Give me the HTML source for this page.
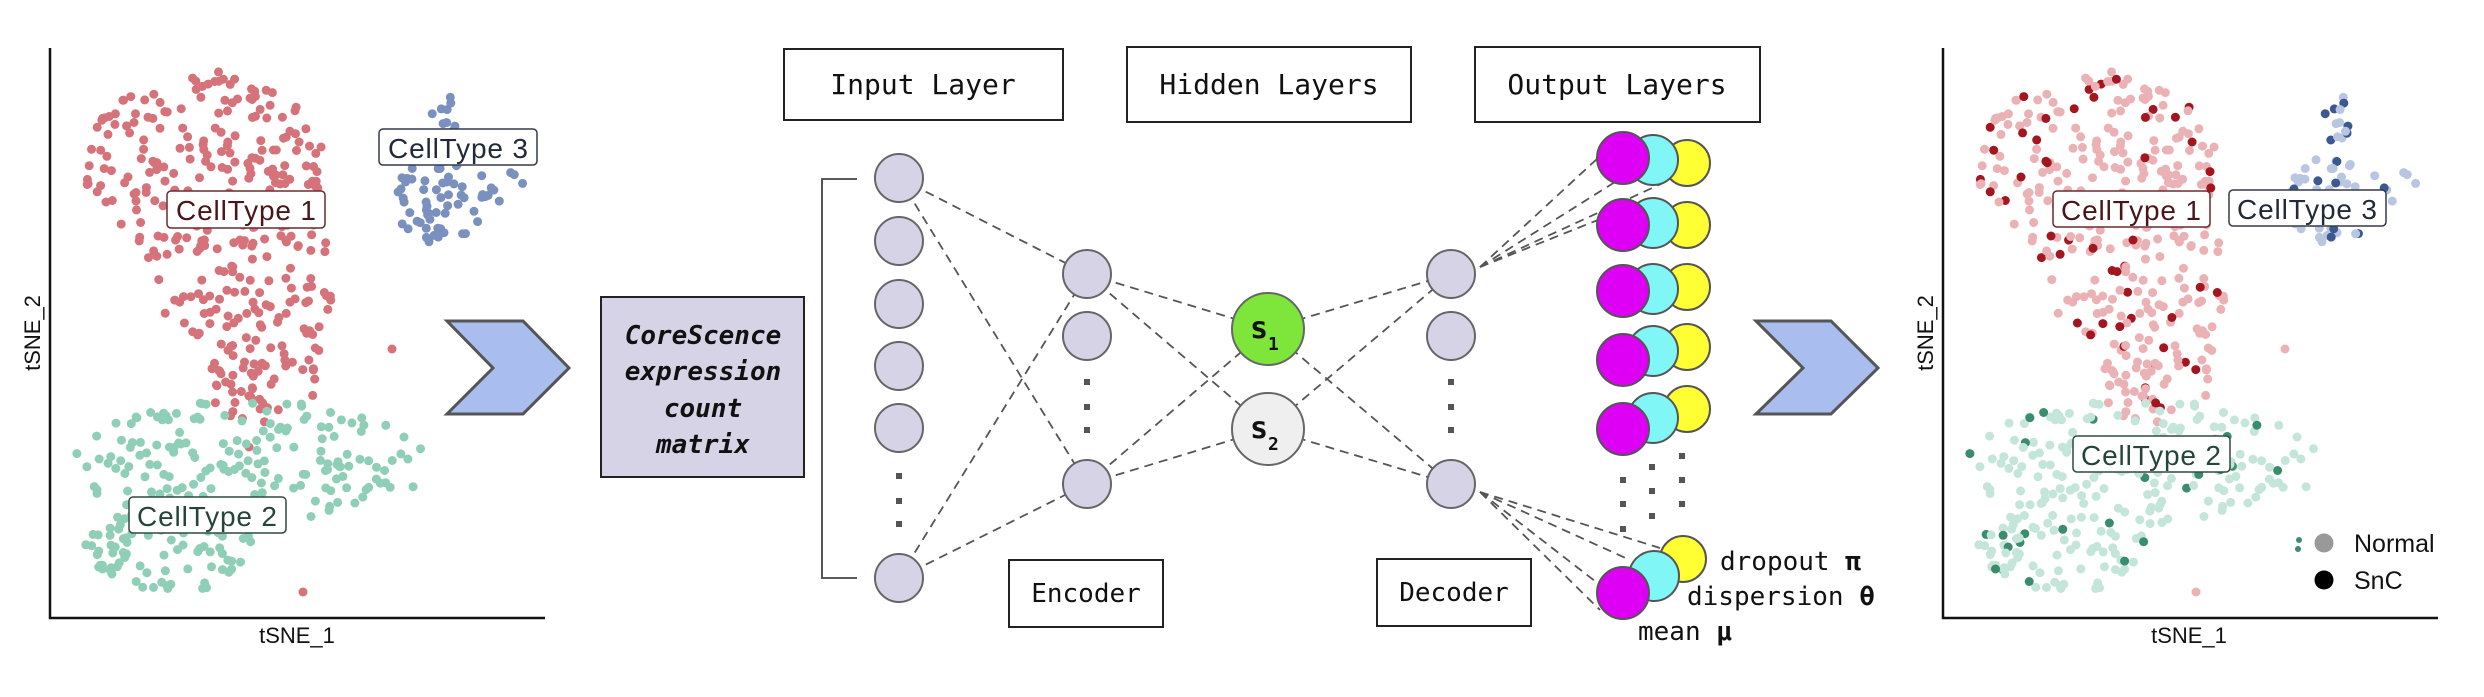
<!DOCTYPE html>
<html><head><meta charset="utf-8">
<style>
html,body{margin:0;padding:0;background:#fff;}
svg{display:block;}
.mono{font-family:"DejaVu Sans Mono","Liberation Mono",monospace;}
.sans{font-family:"Liberation Sans",Arial,sans-serif;}
</style></head>
<body>
<svg id="s" width="2484" height="697" viewBox="0 0 2484 697" xmlns="http://www.w3.org/2000/svg">
<rect width="2484" height="697" fill="#fff"/>
<g id="pts"></g>
<!-- left plot axes -->
<path d="M50 48 V618 H545" fill="none" stroke="#111" stroke-width="2.5"/>
<text x="297" y="643" class="sans" font-size="22" text-anchor="middle" fill="#111">tSNE_1</text>
<text transform="translate(40,333) rotate(-90)" class="sans" font-size="22" text-anchor="middle" fill="#111">tSNE_2</text>
<!-- right plot axes -->
<path d="M1943 48 V618 H2438" fill="none" stroke="#111" stroke-width="2.5"/>
<text x="2189" y="643" class="sans" font-size="22" text-anchor="middle" fill="#111">tSNE_1</text>
<text transform="translate(1933,333) rotate(-90)" class="sans" font-size="22" text-anchor="middle" fill="#111">tSNE_2</text>

<g id="labels" class="sans" font-size="28">
<rect x="167" y="191" width="158" height="37" rx="4" fill="#fff" stroke="#6b2a2e" stroke-width="1.5"/>
<text x="246" y="220" text-anchor="middle" fill="#4a1518" textLength="140">CellType 1</text>
<rect x="379" y="129" width="158" height="36" rx="4" fill="#fff" stroke="#333a4a" stroke-width="1.5"/>
<text x="458" y="158" text-anchor="middle" fill="#222a3a" textLength="140">CellType 3</text>
<rect x="129" y="497" width="157" height="36" rx="4" fill="#fff" stroke="#2f4a40" stroke-width="1.5"/>
<text x="207" y="526" text-anchor="middle" fill="#25453a" textLength="140">CellType 2</text>

<rect x="2053" y="191" width="157" height="36" rx="4" fill="#fff" stroke="#6b2a2e" stroke-width="1.5"/>
<text x="2131" y="220" text-anchor="middle" fill="#4a1518" textLength="140">CellType 1</text>
<rect x="2229" y="190" width="157" height="36" rx="4" fill="#fff" stroke="#333a4a" stroke-width="1.5"/>
<text x="2307" y="219" text-anchor="middle" fill="#222a3a" textLength="140">CellType 3</text>
<rect x="2073" y="436" width="157" height="36" rx="4" fill="#fff" stroke="#2f4a40" stroke-width="1.5"/>
<text x="2151" y="465" text-anchor="middle" fill="#25453a" textLength="140">CellType 2</text>
</g>
<!-- legend -->
<circle cx="2299" cy="540" r="3" fill="#3a8f6e"/><circle cx="2298" cy="549" r="3" fill="#3a8f6e"/>
<circle cx="2324" cy="543" r="9.5" fill="#999"/>
<text x="2354" y="552" class="sans" font-size="25" fill="#111">Normal</text>
<circle cx="2324" cy="580" r="9.5" fill="#000"/>
<text x="2354" y="589" class="sans" font-size="25" fill="#111">SnC</text>

<!-- chevrons -->
<polygon points="447,321 523,321 569,368 523,414 447,414 493,368" fill="#a9bdee" stroke="#555" stroke-width="3"/>
<polygon points="1756,321 1831,321 1878,368 1831,414 1756,414 1803,368" fill="#a9bdee" stroke="#555" stroke-width="3"/>

<!-- CoreScence box -->
<rect x="601" y="297" width="203" height="180" fill="#d6d3e6" stroke="#222" stroke-width="2"/>
<g class="mono" font-size="26" font-weight="bold" font-style="italic" text-anchor="middle" fill="#111">
<text x="703" y="344">CoreScence</text>
<text x="703" y="380">expression</text>
<text x="703" y="417">count</text>
<text x="703" y="453">matrix</text>
</g>

<!-- header boxes -->
<g fill="#fff" stroke="#222" stroke-width="2">
<rect x="784" y="49" width="279" height="71"/>
<rect x="1127" y="47" width="284" height="75"/>
<rect x="1475" y="47" width="285" height="75"/>
<rect x="1009" y="560" width="154" height="67"/>
<rect x="1377" y="559" width="154" height="67"/>
</g>
<g class="mono" font-size="28" text-anchor="middle" fill="#111">
<text x="923" y="94">Input Layer</text>
<text x="1269" y="94">Hidden Layers</text>
<text x="1617" y="94">Output Layers</text>
</g>
<g class="mono" font-size="26" text-anchor="middle" fill="#111">
<text x="1086" y="602">Encoder</text>
<text x="1454" y="601">Decoder</text>
</g>

<!-- bracket -->
<path d="M857 179 H822 V578 H857" fill="none" stroke="#444" stroke-width="1.8"/>

<!-- dashed edges -->
<g stroke="#555" stroke-width="1.8" stroke-dasharray="9 6" fill="none">
<line x1="899" y1="178" x2="1087" y2="274"/>
<line x1="899" y1="178" x2="1087" y2="484"/>
<line x1="899" y1="578" x2="1087" y2="274"/>
<line x1="899" y1="578" x2="1087" y2="484"/>
<line x1="1087" y1="274" x2="1268" y2="329"/>
<line x1="1087" y1="274" x2="1268" y2="429"/>
<line x1="1087" y1="484" x2="1268" y2="329"/>
<line x1="1087" y1="484" x2="1268" y2="429"/>
<line x1="1268" y1="329" x2="1451" y2="274"/>
<line x1="1268" y1="329" x2="1451" y2="484"/>
<line x1="1268" y1="429" x2="1451" y2="274"/>
<line x1="1268" y1="429" x2="1451" y2="484"/>
<line x1="1480" y1="267" x2="1598" y2="158"/>
<line x1="1480" y1="267" x2="1615" y2="182"/>
<line x1="1480" y1="267" x2="1663" y2="183"/>
<line x1="1480" y1="267" x2="1598" y2="220"/>
<line x1="1480" y1="492" x2="1600" y2="585"/>
<line x1="1480" y1="492" x2="1630" y2="560"/>
<line x1="1480" y1="492" x2="1660" y2="548"/>
<line x1="1480" y1="492" x2="1600" y2="610"/>
</g>

<!-- nodes -->
<g fill="#d6d3e6" stroke="#666" stroke-width="2">
<circle cx="899" cy="178" r="24"/><circle cx="899" cy="241" r="24"/><circle cx="899" cy="304" r="24"/>
<circle cx="899" cy="366" r="24"/><circle cx="899" cy="428" r="24"/><circle cx="899" cy="578" r="24"/>
<circle cx="1087" cy="274" r="24"/><circle cx="1087" cy="336" r="24"/><circle cx="1087" cy="484" r="24"/>
<circle cx="1451" cy="274" r="24"/><circle cx="1451" cy="336" r="24"/><circle cx="1451" cy="484" r="24"/>
</g>
<g fill="#555">
<rect x="896" y="473" width="6" height="6"/><rect x="896" y="498" width="6" height="6"/><rect x="896" y="521" width="6" height="6"/>
<rect x="1084" y="379" width="6" height="6"/><rect x="1084" y="404" width="6" height="6"/><rect x="1084" y="427" width="6" height="6"/>
<rect x="1448" y="379" width="6" height="6"/><rect x="1448" y="404" width="6" height="6"/><rect x="1448" y="427" width="6" height="6"/>
<rect x="1620" y="477" width="6" height="6"/><rect x="1620" y="501" width="6" height="6"/><rect x="1620" y="526" width="6" height="6"/>
<rect x="1649" y="464" width="6" height="6"/><rect x="1649" y="488" width="6" height="6"/><rect x="1649" y="513" width="6" height="6"/>
<rect x="1679" y="453" width="6" height="6"/><rect x="1679" y="477" width="6" height="6"/><rect x="1679" y="501" width="6" height="6"/>
</g>
<circle cx="1268" cy="329" r="36" fill="#7ee63a" stroke="#666" stroke-width="2"/>
<circle cx="1268" cy="429" r="36" fill="#efefef" stroke="#666" stroke-width="2"/>
<g class="mono" font-weight="bold" fill="#111">
<text x="1250" y="338" font-size="30">s</text><text x="1268" y="350" font-size="18">1</text>
<text x="1250" y="438" font-size="30">s</text><text x="1268" y="450" font-size="18">2</text>
</g>

<g id="outs" stroke="#555" stroke-width="2"></g>
<g class="mono" font-size="26" fill="#111">
<text x="1720" y="570">dropout <tspan font-weight="bold">π</tspan></text>
<text x="1687" y="605">dispersion <tspan font-weight="bold">θ</tspan></text>
<text x="1638" y="640">mean <tspan font-weight="bold">μ</tspan></text>
</g>
</svg>
<script>
(function(){
var NS="http://www.w3.org/2000/svg";
function el(p,t,a){var e=document.createElementNS(NS,t);for(var k in a)e.setAttribute(k,a[k]);p.appendChild(e);return e;}
var outs=document.getElementById('outs');
var rows=[[158,160,163],[225,223,225],[291,289,287],[360,351,347],[429,418,409],[593,576,559]];
rows.forEach(function(r,i){
  var last=(i==5);
  el(outs,'circle',{cx:last?1683:1687,cy:r[2],r:23,fill:'#ffff33'});
  el(outs,'circle',{cx:last?1654:1653,cy:r[1],r:25,fill:'#80f6f6'});
  el(outs,'circle',{cx:1623,cy:r[0],r:26,fill:'#dd00f5'});
});
var seed=12345;function rnd(){seed=(seed*1103515245+12345)%2147483648;return seed/2147483648;}
var g=document.getElementById('pts');
function inE(x,y,cx,cy,rx,ry){var a=(x-cx)/rx,b=(y-cy)/ry;return a*a+b*b<=1;}
function gen(n,box,test){var p=[];var t=0;while(p.length<n&&t<100000){t++;var x=box[0]+rnd()*(box[2]-box[0]),y=box[1]+rnd()*(box[3]-box[1]);if(test(x,y))p.push([x,y]);}return p;}
var red=gen(370,[85,70,335,425],function(x,y){return inE(x,y,205,170,120,100)||inE(x,y,245,280,90,85)||inE(x,y,262,370,62,55);});
var blue=gen(80,[385,92,528,250],function(x,y){return inE(x,y,445,118,14,26)||inE(x,y,440,200,45,45)||inE(x,y,495,185,32,18)||inE(x,y,515,175,10,10);});
var green=gen(260,[70,395,425,595],function(x,y){return inE(x,y,250,462,178,62)||inE(x,y,170,550,85,42);});
red.push([392,349],[303,592],[249,447]);
var D=1893;
function draw(pts,c,lc,dc,frac){
  pts.forEach(function(p){
    el(g,'circle',{cx:p[0].toFixed(1),cy:p[1].toFixed(1),r:4.5,fill:c});
    var dark=rnd()<frac;
    el(g,'circle',{cx:(p[0]+D).toFixed(1),cy:p[1].toFixed(1),r:4.5,fill:dark?dc:lc});
  });
}
draw(red,'#d5727a','#ebb2b6','#a3161f',0.17);
draw(blue,'#7a90bf','#b9c6e2','#3c5891',0.35);
draw(green,'#8fcfb8','#c4e5d9','#3a8d6c',0.08);
})();
</script>
</body></html>
